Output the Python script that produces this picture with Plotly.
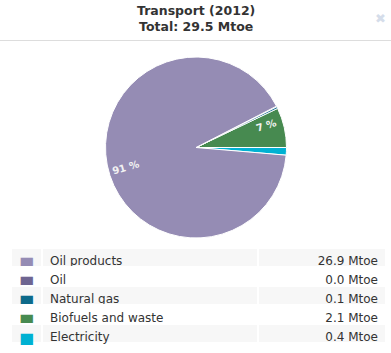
import math
import plotly.graph_objects as go

# ---- data ----
labels = ["Oil products", "Oil", "Natural gas", "Biofuels and waste", "Electricity"]
values = [26.9, 0.03, 0.1, 2.1, 0.4]
colors = ["#958cb4", "#6e6591", "#0e6a8a", "#478a50", "#00b1d2"]
title_line1 = "Transport (2012)"
title_line2 = "Total: 29.5 Mtoe"
unit = "Mtoe"

W, H = 391, 353
CX, CY, R = 196, 147.5, 90.5
total = sum(values)

# pie draws from Electricity counterclockwise starting at 3 o'clock
order = list(range(len(labels)))[::-1]
pie_labels = [labels[i] for i in order]
pie_values = [values[i] for i in order]
pie_colors = [colors[i] for i in order]

def px(x0, x1):
    return [x0 / W, x1 / W]

def py(y0, y1):
    return [1 - y1 / H, 1 - y0 / H]

fig = go.Figure()
fig.add_trace(go.Pie(
    labels=pie_labels, values=pie_values, sort=False,
    direction="counterclockwise", rotation=90,
    marker=dict(colors=pie_colors, line=dict(color="white", width=1)),
    textinfo="none",
    hoverinfo="label+value",
    domain=dict(x=px(CX - R, CX + R), y=py(CY - R, CY + R)),
    showlegend=False,
))

# percentage labels placed at each slice's mid angle
annotations = []
cum = 0.0
for v in pie_values:
    frac = v / total
    mid = (cum + frac / 2) * 2 * math.pi
    cum += frac
    if frac < 0.05:
        continue
    rr = 0.81 * R
    x = CX + rr * math.cos(mid)
    y = CY - rr * math.sin(mid)
    ang = math.degrees(mid) % 180
    if ang > 90:
        ang -= 180
    annotations.append(dict(
        text=f"<b>{round(frac * 100)} %</b>", x=x / W, y=1 - y / H,
        xref="paper", yref="paper", xanchor="center", yanchor="middle",
        showarrow=False, textangle=-ang,
        font=dict(family="DejaVu Sans", size=10, color="#f2f2f2")))

n = len(labels)
row_fill = ["#f7f7f7" if i % 2 == 0 else "white" for i in range(n)]
fig.add_trace(go.Table(
    domain=dict(x=px(11, 386), y=py(247, 345)),
    columnwidth=[31, 216, 128],
    header=dict(values=["", "", ""], height=1, fill_color="white",
                line=dict(color="white", width=0)),
    cells=dict(
        values=[["■"] * n, labels, [f"{v:.1f} {unit}" for v in values]],
        align=["center", "left", "right"],
        height=19,
        fill_color=[row_fill, row_fill, row_fill],
        line=dict(color="white", width=2),
        font=dict(family="DejaVu Sans", size=[16, 12, 12],
                  color=[colors, ["#333333"] * n, ["#333333"] * n]),
    ),
))

annotations.append(dict(
    text=f"<b>{title_line1}</b><br><b>{title_line2}</b>",
    x=0.5, y=1 - 19 / H, xref="paper", yref="paper",
    xanchor="center", yanchor="middle", showarrow=False,
    font=dict(family="DejaVu Sans", size=12.5, color="#333333")))
annotations.append(dict(
    text="✖", x=380 / W, y=1 - 19 / H, xref="paper", yref="paper",
    xanchor="center", yanchor="middle", showarrow=False,
    font=dict(family="DejaVu Sans", size=13, color="#d5ddea")))

fig.update_layout(
    width=W, height=H,
    margin=dict(l=0, r=0, t=0, b=0),
    paper_bgcolor="white", plot_bgcolor="white",
    annotations=annotations,
    shapes=[dict(type="line", xref="paper", yref="paper",
                 x0=0, x1=1, y0=1 - 40.5 / H, y1=1 - 40.5 / H,
                 line=dict(color="#dddddd", width=1))],
)

fig.write_html("out.html")
